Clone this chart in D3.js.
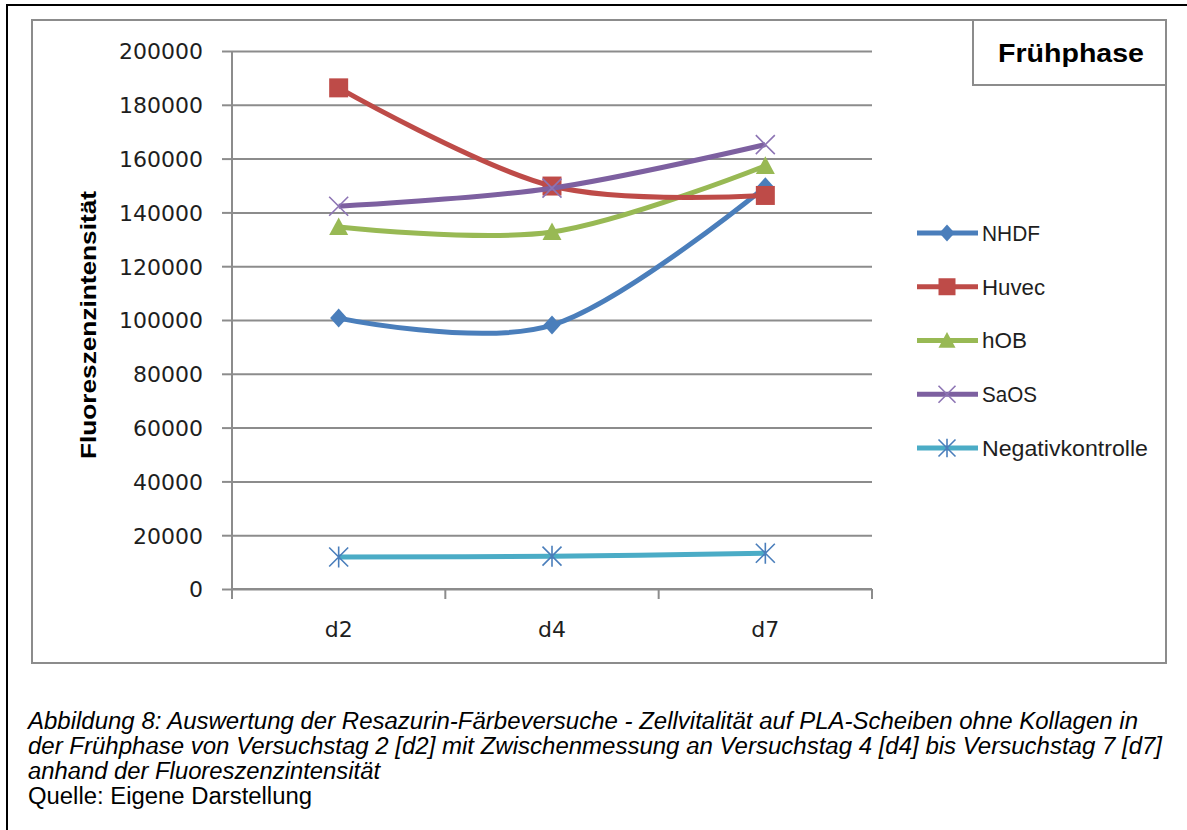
<!DOCTYPE html>
<html lang="de">
<head>
<meta charset="utf-8">
<title>Frühphase – Fluoreszenzintensität</title>
<script src="https://cdn.jsdelivr.net/npm/d3@7/dist/d3.min.js"></script>
<style>
  html, body { margin: 0; padding: 0; background: #fff; }
  svg { display: block; }
</style>
</head>
<body>
<svg id="chart" width="1187" height="830"></svg>
<script>
// Messtage (Kategorien) und Serien
const days = ["d2", "d4", "d7"];
const seriesNames = ["NHDF", "Huvec", "hOB", "SaOS", "Negativkontrolle"];
const nhdf = [100700, 98100, 149500];
const huvec = [186300, 149800, 146300];
const hob = [134600, 132700, 157300];
const saos = [142300, 149000, 165200];
const negativ = [11900, 12200, 13300];
const yTicks = [0, 20000, 40000, 60000, 80000, 100000, 120000, 140000, 160000, 180000, 200000];
const chartTitle = "Frühphase";
const yTitle = "Fluoreszenzintensität";
const captionLines = [
  "Abbildung 8: Auswertung der Resazurin-Färbeversuche - Zellvitalität auf PLA-Scheiben ohne Kollagen in",
  "der Frühphase von Versuchstag 2 [d2] mit Zwischenmessung an Versuchstag 4 [d4] bis Versuchstag 7 [d7]",
  "anhand der Fluoreszenzintensität"
];
const sourceLine = "Quelle: Eigene Darstellung";

const seriesValues = [nhdf, huvec, hob, saos, negativ];
const lineColors = ["#4A7EBB", "#BE4B48", "#98B954", "#7D60A0", "#4BACC6"];
const markerColors = ["#4A7EBB", "#BE4B48", "#98B954", "#8D74B4", "#4A7EBB"];
const markerKinds = ["diamond", "square", "triangle", "x", "star"];

const svg = d3.select("#chart");

// Äußerer Rahmen (oben und links)
svg.append("path")
  .attr("d", "M7,830 V5 H1187")
  .attr("fill", "none").attr("stroke", "#000").attr("stroke-width", 2);

// Diagrammbereich
svg.append("rect")
  .attr("x", 32).attr("y", 20).attr("width", 1134).attr("height", 643)
  .attr("fill", "#fff").attr("stroke", "#8c8c8c").attr("stroke-width", 2);

const plot = { left: 232, right: 872, top: 51, bottom: 589 };

const y = d3.scaleLinear().domain([0, 200000]).range([plot.bottom, plot.top]);
const xBand = d3.scaleBand().domain(days).range([plot.left, plot.right]).paddingInner(0).paddingOuter(0);
const xPos = d => xBand(d) + xBand.bandwidth() / 2;

// Gitternetzlinien
svg.append("g")
  .attr("transform", `translate(${plot.left},0)`)
  .call(d3.axisLeft(y).tickValues(yTicks).tickSize(-(plot.right - plot.left)).tickFormat(""))
  .call(g => g.select(".domain").remove())
  .call(g => g.selectAll("line").attr("stroke", "#8c8c8c").attr("stroke-width", 2));

// Y-Achse
const yAxis = svg.append("g")
  .attr("transform", `translate(${plot.left},0)`)
  .call(d3.axisLeft(y).tickValues(yTicks).tickSize(10).tickPadding(19).tickFormat(d3.format("d")));
yAxis.select(".domain").attr("d", `M0,${plot.top}V${plot.bottom + 10}`).attr("stroke", "#8c8c8c").attr("stroke-width", 2);
yAxis.selectAll(".tick line").attr("stroke", "#8c8c8c").attr("stroke-width", 2);
yAxis.selectAll(".tick text")
  .attr("font-family", "DejaVu Sans").attr("font-size", 22).attr("fill", "#1e1e1e")
  .attr("dy", "0.36em");

// X-Achse: Linie, Teilstriche an Kategoriegrenzen, Beschriftung in Kategoriemitte
const xAxis = svg.append("g").attr("transform", `translate(0,${plot.bottom})`);
xAxis.append("line")
  .attr("x1", plot.left).attr("x2", plot.right)
  .attr("stroke", "#8c8c8c").attr("stroke-width", 2);
const bounds = days.map(d => xBand(d)).concat([xBand.range()[1]]);
xAxis.selectAll("line.tk").data(bounds).join("line")
  .attr("class", "tk")
  .attr("x1", d => d).attr("x2", d => d).attr("y1", 0).attr("y2", 10)
  .attr("stroke", "#8c8c8c").attr("stroke-width", 2);
xAxis.selectAll("text").data(days).join("text")
  .attr("x", d => xPos(d)).attr("y", 48)
  .attr("text-anchor", "middle")
  .attr("font-family", "DejaVu Sans").attr("font-size", 22).attr("fill", "#1e1e1e")
  .text(d => d);

// Achsentitel
svg.append("text")
  .attr("transform", `translate(96,${(190 + 460) / 2}) rotate(-90)`)
  .attr("text-anchor", "middle")
  .attr("font-family", "Liberation Sans").attr("font-weight", "bold").attr("font-size", 22)
  .attr("textLength", 268).attr("lengthAdjust", "spacingAndGlyphs")
  .attr("fill", "#000")
  .text(yTitle);

// Titelkasten
svg.append("rect")
  .attr("x", 973).attr("y", 20).attr("width", 193).attr("height", 65)
  .attr("fill", "#fff").attr("stroke", "#8c8c8c").attr("stroke-width", 2);
svg.append("text")
  .attr("x", 998).attr("y", 62)
  .attr("font-family", "Liberation Sans").attr("font-weight", "bold").attr("font-size", 26)
  .attr("textLength", 146).attr("lengthAdjust", "spacingAndGlyphs")
  .attr("fill", "#000")
  .text(chartTitle);

// Markersymbole
function markerPath(kind, s) {
  const h = s / 2;
  switch (kind) {
    case "diamond": return `M0,${-h}L${h * 0.9},0L0,${h}L${-h * 0.9},0Z`;
    case "square": return `M${-h},${-h}H${h}V${h}H${-h}Z`;
    case "triangle": return `M0,${-h}L${h},${h * 0.85}H${-h}Z`;
    case "x": return `M${-h},${-h}L${h},${h}M${h},${-h}L${-h},${h}`;
    case "star": return `M${-h},${-h}L${h},${h}M${h},${-h}L${-h},${h}M0,${-h * 1.1}V${h * 1.1}`;
  }
}
function drawMarker(sel, i, s) {
  const k = markerKinds[i];
  const open = (k === "x" || k === "star");
  sel.append("path")
    .attr("d", markerPath(k, s))
    .attr("fill", open ? "none" : markerColors[i])
    .attr("stroke", markerColors[i])
    .attr("stroke-width", open ? 1.6 : 0);
}

// Linien (geglättet) und Datenpunkte
const line = d3.line()
  .x((v, j) => xPos(days[j]))
  .y(v => y(v))
  .curve(d3.curveCatmullRom.alpha(0));

const order = [4, 0, 2, 1, 3];
order.forEach(i => {
  const g = svg.append("g");
  g.append("path")
    .attr("d", line(seriesValues[i]))
    .attr("fill", "none")
    .attr("stroke", lineColors[i])
    .attr("stroke-width", 5)
    .attr("stroke-linejoin", "round");
  seriesValues[i].forEach((v, j) => {
    const m = g.append("g").attr("transform", `translate(${xPos(days[j])},${y(v)})`);
    drawMarker(m, i, 19);
  });
});

// Legende
const legendY = d3.scalePoint().domain(seriesNames).range([233, 448]);
const legendWidths = [58, 63, 45, 55, 166];
seriesNames.forEach((name, i) => {
  const ly = legendY(name);
  const g = svg.append("g");
  g.append("line")
    .attr("x1", 917).attr("x2", 978).attr("y1", ly).attr("y2", ly)
    .attr("stroke", lineColors[i]).attr("stroke-width", 5);
  const m = g.append("g").attr("transform", `translate(947,${ly})`);
  drawMarker(m, i, 17);
  g.append("text")
    .attr("x", 982).attr("y", ly).attr("dy", "0.36em")
    .attr("font-family", "Liberation Sans").attr("font-size", 22).attr("fill", "#1e1e1e")
    .attr("textLength", legendWidths[i]).attr("lengthAdjust", "spacingAndGlyphs")
    .text(name);
});

// Bildunterschrift
const capWidths = [1110, 1134, 352];
captionLines.forEach((t, i) => {
  svg.append("text")
    .attr("x", 28).attr("y", 729 + i * 25)
    .attr("font-family", "Liberation Sans").attr("font-style", "italic").attr("font-size", 23)
    .attr("textLength", capWidths[i]).attr("lengthAdjust", "spacingAndGlyphs")
    .attr("fill", "#000")
    .text(t);
});
svg.append("text")
  .attr("x", 28).attr("y", 804)
  .attr("font-family", "Liberation Sans").attr("font-size", 23)
  .attr("textLength", 284).attr("lengthAdjust", "spacingAndGlyphs")
  .attr("fill", "#000")
  .text(sourceLine);
</script>
</body>
</html>
